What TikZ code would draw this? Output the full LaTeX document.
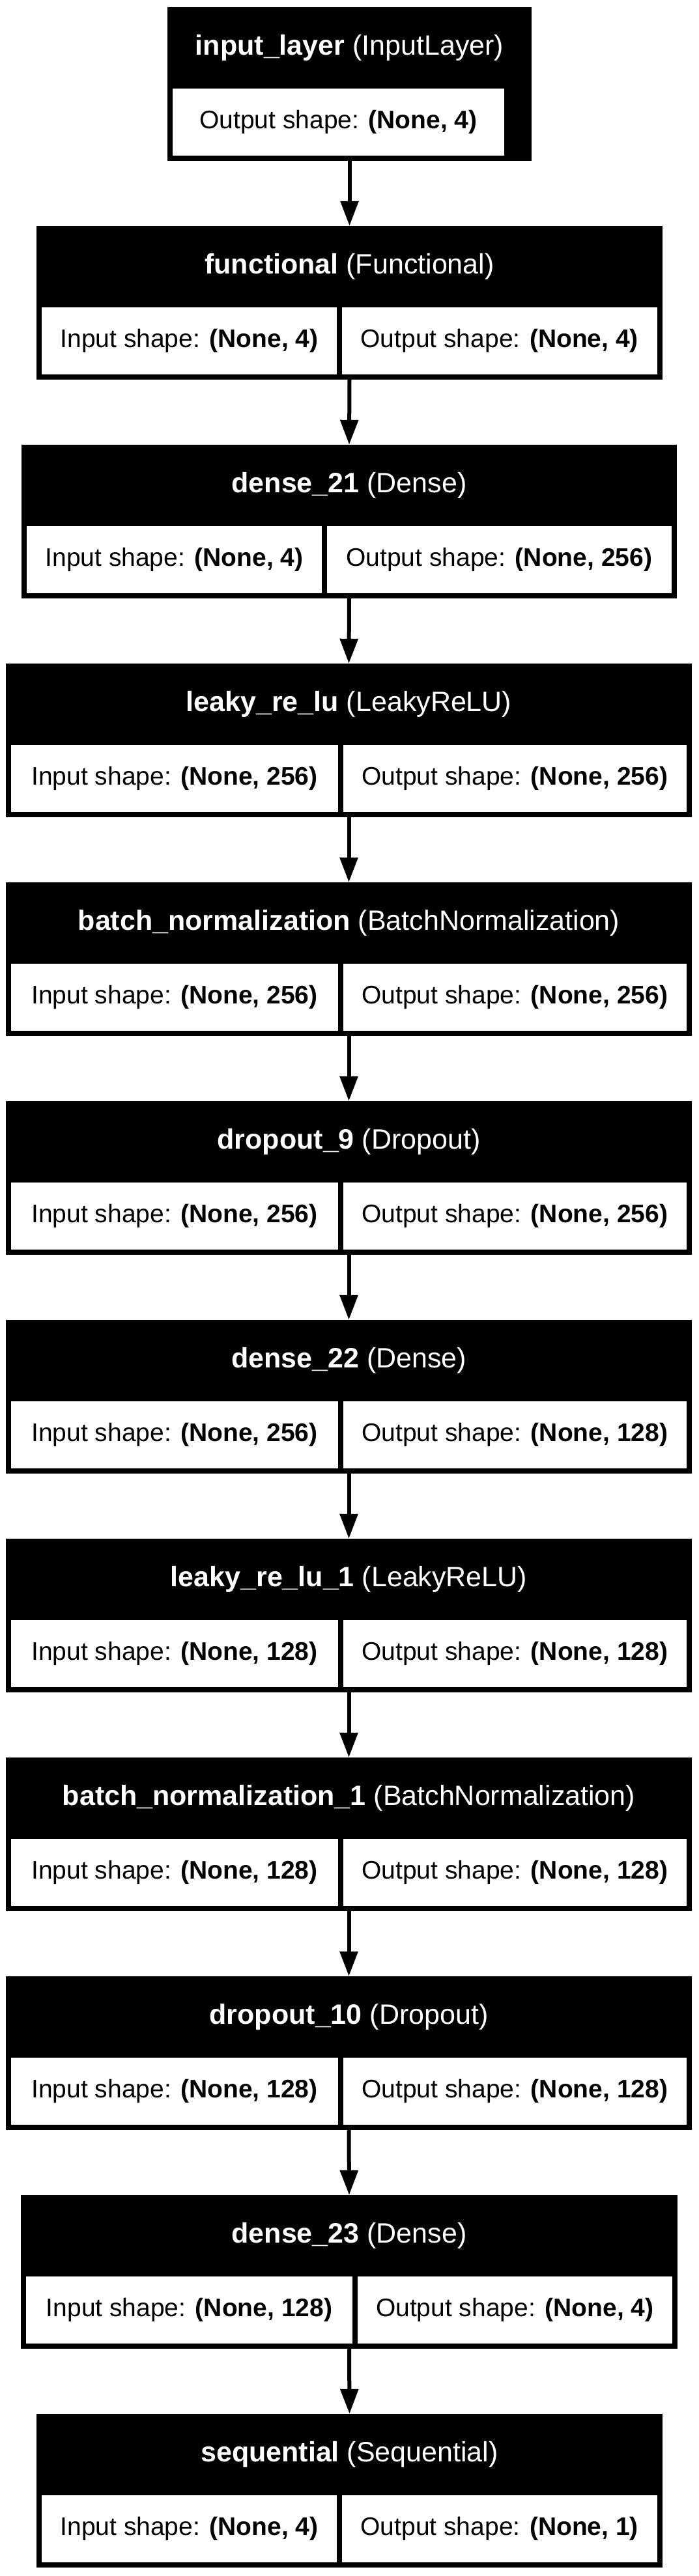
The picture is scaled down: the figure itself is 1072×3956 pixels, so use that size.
\documentclass[tikz,border=0pt]{standalone}
\usepackage{fontspec}
\setmainfont{Liberation Sans}
\usetikzlibrary{fit,arrows.meta}
\tikzset{
  outerbox/.style={fill=black, draw=none, inner sep=0pt, rectangle},
  cellbox/.style={fill=white, draw=none, inner sep=0pt, rectangle},
  headtext/.style={text=white, inner sep=0pt, font=\fontsize{43}{50}\selectfont},
  bodytext/.style={text=black, inner sep=0pt, font=\fontsize{39}{46}\selectfont},
  arr/.style={line width=6pt, -{Triangle[length=38pt,width=27pt]}}
}
% #1 id, #2 top, #3 xL, #4 xR, #5 split, #6 name, #7 type, #8 in, #9 out
\newcommand{\LayerTwo}[9]{%
  \node[outerbox, fit={(#3,#2) (#4,#2+236)}] (#1) {};
  \node[cellbox, fit={(#3+8,#2+125) (#5,#2+228)}] (#1in) {};
  \node[cellbox, fit={(#5+7.5,#2+125) (#4-8,#2+228)}] (#1out) {};
  \node[headtext] (#1head) at ({(#3+#4)/2},#2+62.5) {\textbf{#6} (#7)};
  \node[bodytext] (#1intext) at (#1in.center) {Input shape: \textbf{#8}};
  \node[bodytext] (#1outtext) at (#1out.center) {Output shape: \textbf{#9}};
}
\begin{document}
\begin{tikzpicture}[x=1pt, y=-1pt]
\useasboundingbox (0,0) rectangle (1072,3956);
\fill[white] (0,0) rectangle (1072,3956);
% input layer
\node[outerbox, fit={(257,11) (816,247)}] (L1) {};
\node[cellbox, fit={(265,136) (774,239)}] (L1out) {};
\node[headtext] (L1head) at (536.5,73.5) {\textbf{input\_layer} (InputLayer)};
\node[bodytext] (L1outtext) at (L1out.center) {Output shape: \textbf{(None, 4)}};
\LayerTwo{L2}{347}{56}{1017}{517}{functional}{Functional}{(None, 4)}{(None, 4)}
\LayerTwo{L3}{683}{33}{1039}{494}{dense\_21}{Dense}{(None, 4)}{(None, 256)}
\LayerTwo{L4}{1019}{9}{1062}{519}{leaky\_re\_lu}{LeakyReLU}{(None, 256)}{(None, 256)}
\LayerTwo{L5}{1355}{9}{1062}{519}{batch\_normalization}{BatchNormalization}{(None, 256)}{(None, 256)}
\LayerTwo{L6}{1691}{9}{1062}{519}{dropout\_9}{Dropout}{(None, 256)}{(None, 256)}
\LayerTwo{L7}{2027}{9}{1062}{519}{dense\_22}{Dense}{(None, 256)}{(None, 128)}
\LayerTwo{L8}{2363}{9}{1062}{519}{leaky\_re\_lu\_1}{LeakyReLU}{(None, 128)}{(None, 128)}
\LayerTwo{L9}{2699}{9}{1062}{519}{batch\_normalization\_1}{BatchNormalization}{(None, 128)}{(None, 128)}
\LayerTwo{L10}{3035}{9}{1062}{519}{dropout\_10}{Dropout}{(None, 128)}{(None, 128)}
\LayerTwo{L11}{3371}{32}{1040}{541}{dense\_23}{Dense}{(None, 128)}{(None, 4)}
\LayerTwo{L12}{3707}{56}{1017}{517}{sequential}{Sequential}{(None, 4)}{(None, 1)}
\foreach \a/\b in {L1/L2,L2/L3,L3/L4,L4/L5,L5/L6,L6/L7,L7/L8,L8/L9,L9/L10,L10/L11,L11/L12}
  \draw[arr] (\a.south) -- (\b.north);
\end{tikzpicture}
\end{document}
